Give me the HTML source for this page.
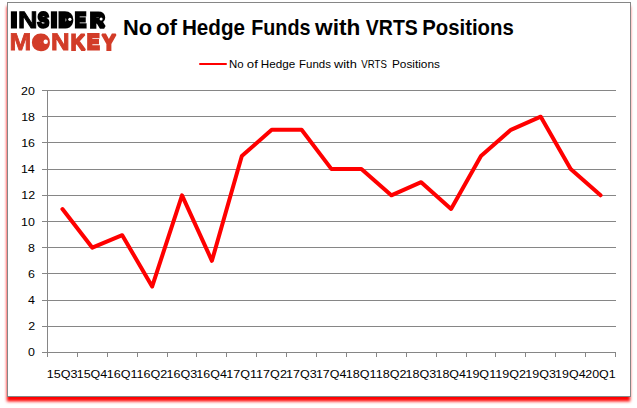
<!DOCTYPE html>
<html><head><meta charset="utf-8"><title>No of Hedge Funds with VRTS Positions</title>
<style>
html,body{margin:0;padding:0;background:#fff;}
body{width:637px;height:408px;overflow:hidden;position:relative;}
svg{position:absolute;left:0;top:0;display:block;}
text{font-family:"Liberation Sans",sans-serif;}
.ax{font-size:11.4px;fill:#000;}
.lg{font-size:11.4px;fill:#000;}
.tt{font-size:21.2px;font-weight:bold;fill:#000;}
.l1{font-weight:bold;fill:#000;stroke:#000;stroke-linejoin:miter;stroke-miterlimit:1.5;}
.l2{font-weight:bold;fill:#d23c28;stroke:#d23c28;stroke-linejoin:miter;stroke-miterlimit:1.5;}
</style></head><body>
<svg width="637" height="408" viewBox="0 0 637 408">
<defs><filter id="bl" x="-5%" y="-5%" width="110%" height="110%"><feGaussianBlur stdDeviation="1.7"/></filter></defs>
<rect x="6.85" y="6.3" width="623.35" height="395.1" fill="#ff0000" filter="url(#bl)"/>
<rect x="7.5" y="2.5" width="623" height="394" fill="#fff" stroke="#868686" stroke-width="1"/>
<g stroke="#868686" stroke-width="1" shape-rendering="crispEdges"><line x1="42.0" y1="352.5" x2="616.0" y2="352.5"/><line x1="42.0" y1="326.5" x2="616.0" y2="326.5"/><line x1="42.0" y1="300.5" x2="616.0" y2="300.5"/><line x1="42.0" y1="273.5" x2="616.0" y2="273.5"/><line x1="42.0" y1="247.5" x2="616.0" y2="247.5"/><line x1="42.0" y1="221.5" x2="616.0" y2="221.5"/><line x1="42.0" y1="195.5" x2="616.0" y2="195.5"/><line x1="42.0" y1="169.5" x2="616.0" y2="169.5"/><line x1="42.0" y1="142.5" x2="616.0" y2="142.5"/><line x1="42.0" y1="116.5" x2="616.0" y2="116.5"/><line x1="42.0" y1="90.5" x2="616.0" y2="90.5"/><line x1="47.5" y1="90.0" x2="47.5" y2="357.0"/><line x1="77.5" y1="352.5" x2="77.5" y2="357.0"/><line x1="107.5" y1="352.5" x2="107.5" y2="357.0"/><line x1="137.5" y1="352.5" x2="137.5" y2="357.0"/><line x1="167.5" y1="352.5" x2="167.5" y2="357.0"/><line x1="196.5" y1="352.5" x2="196.5" y2="357.0"/><line x1="226.5" y1="352.5" x2="226.5" y2="357.0"/><line x1="256.5" y1="352.5" x2="256.5" y2="357.0"/><line x1="286.5" y1="352.5" x2="286.5" y2="357.0"/><line x1="316.5" y1="352.5" x2="316.5" y2="357.0"/><line x1="346.5" y1="352.5" x2="346.5" y2="357.0"/><line x1="376.5" y1="352.5" x2="376.5" y2="357.0"/><line x1="406.5" y1="352.5" x2="406.5" y2="357.0"/><line x1="436.5" y1="352.5" x2="436.5" y2="357.0"/><line x1="466.5" y1="352.5" x2="466.5" y2="357.0"/><line x1="495.5" y1="352.5" x2="495.5" y2="357.0"/><line x1="525.5" y1="352.5" x2="525.5" y2="357.0"/><line x1="555.5" y1="352.5" x2="555.5" y2="357.0"/><line x1="585.5" y1="352.5" x2="585.5" y2="357.0"/><line x1="615.5" y1="352.5" x2="615.5" y2="357.0"/></g>
<text class="ax" transform="translate(28.05,355.85) scale(1.0900,1)">0</text><text class="ax" transform="translate(28.17,329.85) scale(1.0900,1)">2</text><text class="ax" transform="translate(27.93,303.85) scale(1.0900,1)">4</text><text class="ax" transform="translate(28.11,277.85) scale(1.0900,1)">6</text><text class="ax" transform="translate(28.05,251.85) scale(1.0900,1)">8</text><text class="ax" transform="translate(21.09,225.85) scale(1.0900,1)">10</text><text class="ax" transform="translate(21.28,198.85) scale(1.0900,1)">12</text><text class="ax" transform="translate(20.97,172.85) scale(1.0900,1)">14</text><text class="ax" transform="translate(21.15,146.85) scale(1.0900,1)">16</text><text class="ax" transform="translate(21.15,120.85) scale(1.0900,1)">18</text><text class="ax" transform="translate(21.09,94.85) scale(1.0900,1)">20</text>
<text class="ax" transform="translate(46.86,377.70) scale(1.1017,1)">15Q3</text><text class="ax" transform="translate(76.76,377.70) scale(1.0946,1)">15Q4</text><text class="ax" transform="translate(106.64,377.70) scale(1.1041,1)">16Q1</text><text class="ax" transform="translate(136.54,377.70) scale(1.1041,1)">16Q2</text><text class="ax" transform="translate(166.43,377.70) scale(1.1017,1)">16Q3</text><text class="ax" transform="translate(196.34,377.70) scale(1.0946,1)">16Q4</text><text class="ax" transform="translate(226.22,377.70) scale(1.1041,1)">17Q1</text><text class="ax" transform="translate(256.12,377.70) scale(1.1041,1)">17Q2</text><text class="ax" transform="translate(286.01,377.70) scale(1.1017,1)">17Q3</text><text class="ax" transform="translate(315.91,377.70) scale(1.0946,1)">17Q4</text><text class="ax" transform="translate(345.80,377.70) scale(1.1041,1)">18Q1</text><text class="ax" transform="translate(375.70,377.70) scale(1.1041,1)">18Q2</text><text class="ax" transform="translate(405.59,377.70) scale(1.1017,1)">18Q3</text><text class="ax" transform="translate(435.49,377.70) scale(1.0946,1)">18Q4</text><text class="ax" transform="translate(465.38,377.70) scale(1.1041,1)">19Q1</text><text class="ax" transform="translate(495.27,377.70) scale(1.1041,1)">19Q2</text><text class="ax" transform="translate(525.17,377.70) scale(1.1017,1)">19Q3</text><text class="ax" transform="translate(555.07,377.70) scale(1.0946,1)">19Q4</text><text class="ax" transform="translate(585.28,377.70) scale(1.0923,1)">20Q1</text>
<polyline points="62.45,209.00 92.34,247.70 122.24,235.20 152.13,286.60 182.03,195.30 211.92,260.80 241.82,156.00 271.71,129.80 301.61,129.80 331.50,169.10 361.39,169.10 391.29,195.30 421.18,182.20 451.08,209.00 480.97,156.00 510.87,129.80 540.76,116.70 570.66,169.10 600.55,195.30" fill="none" stroke="#ff0000" stroke-width="4" stroke-linejoin="round" stroke-linecap="round"/>
<line x1="200.0" y1="64" x2="226.0" y2="64" stroke="#ff0000" stroke-width="2" stroke-linecap="round"/>
<text class="lg" transform="translate(229.09,67.80) scale(1.0025,1)">No</text><text class="lg" transform="translate(246.87,67.80) scale(1.1586,1)">of</text><text class="lg" transform="translate(260.77,67.80) scale(1.0247,1)">Hedge</text><text class="lg" transform="translate(299.08,67.80) scale(1.0058,1)">Funds</text><text class="lg" transform="translate(334.00,67.80) scale(1.1253,1)">with</text><text class="lg" transform="translate(361.35,67.80) scale(0.8435,1)">VRTS</text><text class="lg" transform="translate(391.95,67.80) scale(1.0375,1)">Positions</text>
<text class="tt" transform="translate(122.98,34.80) scale(1.0316,1)">No</text><text class="tt" transform="translate(155.90,34.80) scale(1.0581,1)">of</text><text class="tt" transform="translate(181.96,34.80) scale(0.9737,1)">Hedge</text><text class="tt" transform="translate(251.22,34.80) scale(0.9320,1)">Funds</text><text class="tt" transform="translate(315.10,34.80) scale(1.0698,1)">with</text><text class="tt" transform="translate(365.80,34.80) scale(0.9200,1)">VRTS</text><text class="tt" transform="translate(422.18,34.80) scale(0.9606,1)">Positions</text>
<g opacity="0.999" text-rendering="geometricPrecision"><text class="l1" transform="translate(10.91,27.10) scale(1.026,1)" font-size="20.65" stroke-width="3.0">I</text><text class="l1" transform="translate(17.99,28.15) scale(1.140,1)" font-size="23.71" stroke-width="0.9">N</text><text class="l1" transform="translate(37.71,27.10) scale(0.808,1)" font-size="20.65" stroke-width="3.0">S</text><text class="l1" transform="translate(50.91,27.10) scale(1.043,1)" font-size="20.65" stroke-width="3.0">I</text><text class="l1" transform="translate(59.81,26.10) scale(0.933,1)" font-size="17.75" stroke-width="5.0">D</text><text class="l1" transform="translate(74.88,27.10) scale(0.803,1)" font-size="20.65" stroke-width="3.0">E</text><text class="l1" transform="translate(90.46,26.80) scale(0.981,1)" font-size="19.78" stroke-width="3.6">R</text>
<text class="l2" transform="translate(9.47,50.30) scale(1.076,1)" font-size="24.29" stroke-width="0.8">M</text><text class="l2" transform="translate(34.61,47.50) scale(1.022,1)" font-size="16.15" stroke-width="6.4">O</text><text class="l2" transform="translate(50.94,50.25) scale(1.067,1)" font-size="24.15" stroke-width="0.9">N</text><text class="l2" transform="translate(70.63,49.70) scale(0.895,1)" font-size="22.55" stroke-width="2.0">K</text><text class="l2" transform="translate(87.37,49.20) scale(0.857,1)" font-size="21.09" stroke-width="3.0">E</text><text class="l2" transform="translate(101.67,49.70) scale(0.947,1)" font-size="22.55" stroke-width="2.0">Y</text>
<circle cx="69.9" cy="19.3" r="1.6" fill="#fff"/><circle cx="101.1" cy="19.1" r="1.5" fill="#fff"/><circle cx="45.7" cy="41.7" r="2.2" fill="#fff"/></g>
</svg>
</body></html>
